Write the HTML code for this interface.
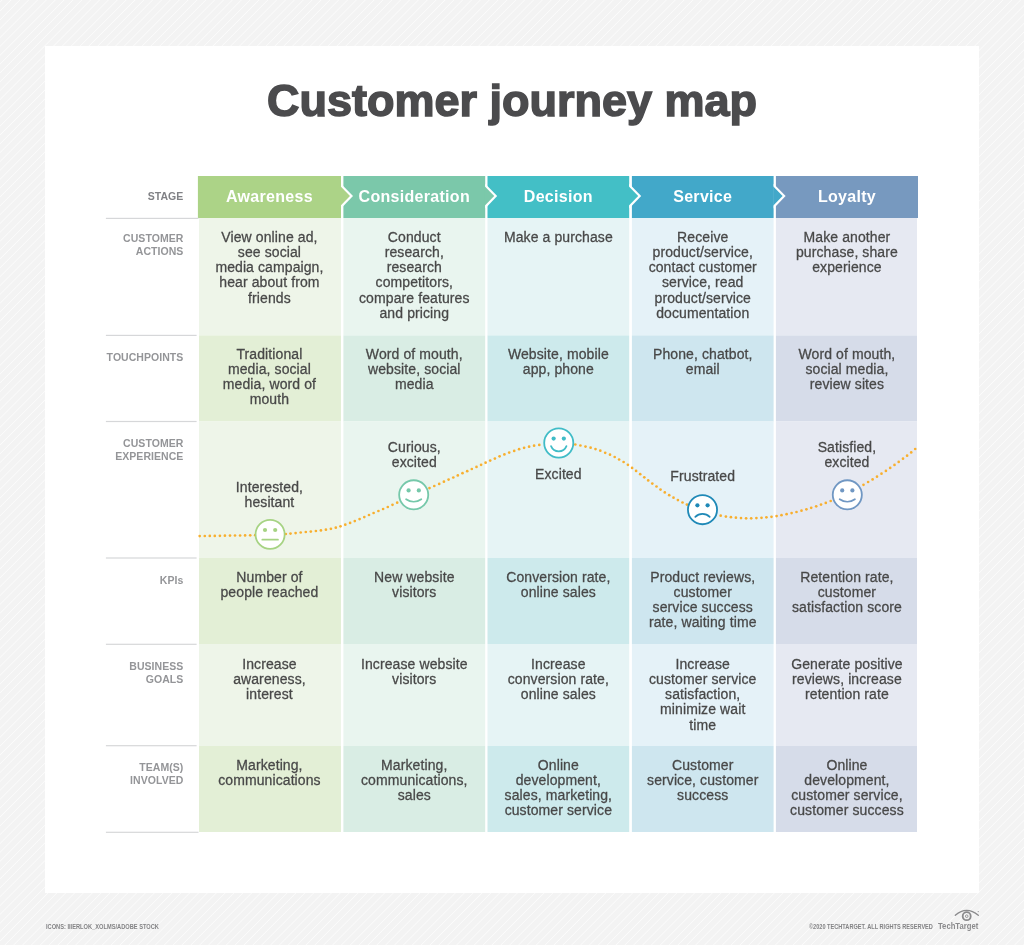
<!DOCTYPE html>
<html><head><meta charset="utf-8">
<style>
*{margin:0;padding:0;box-sizing:border-box}
html,body{width:1024px;height:945px;overflow:hidden}
body{position:relative;-webkit-font-smoothing:antialiased;font-family:"Liberation Sans",sans-serif;
background:#f3f3f3 repeating-linear-gradient(135deg,#f3f3f3 0px,#f3f3f3 0.75px,#fbfbfb 1.5px,#f3f3f3 2.25px,#f3f3f3 6.263px);}
#card{position:absolute;left:45.4px;top:45.7px;width:933.4px;height:847.4px;background:#fff}
svg.g{position:absolute;left:0;top:0}
#txt{position:absolute;left:0;top:0;width:1024px;height:945px;will-change:transform}
.t{position:absolute;text-align:center;font-size:14px;line-height:15.3px;color:#484848;-webkit-text-stroke:0.28px #484848;white-space:nowrap;letter-spacing:0.1px}
.h{position:absolute;text-align:center;font-size:16px;font-weight:bold;color:#fff;white-space:nowrap;letter-spacing:0.3px}
.l{position:absolute;text-align:right;font-size:10.5px;line-height:12.8px;letter-spacing:0.05px;color:#949598;white-space:nowrap;font-weight:bold}
#title{position:absolute;left:0;width:1024px;text-align:center;font-size:45px;font-weight:bold;color:#4b4b4d;-webkit-text-stroke:1.5px #4b4b4d;white-space:nowrap}
.foot{position:absolute;color:#838385;white-space:nowrap;font-weight:bold}
</style></head><body>
<div id="card"></div>

<svg class="g" width="1024" height="945" viewBox="0 0 1024 945">
<rect x="197.9" y="176.0" width="143.10" height="42.00" fill="#acd387"/>
<rect x="343.4" y="176.0" width="141.80" height="42.00" fill="#7bc8aa"/>
<rect x="487.5" y="176.0" width="141.70" height="42.00" fill="#43bfc6"/>
<rect x="631.9" y="176.0" width="141.70" height="42.00" fill="#42a8c9"/>
<rect x="775.9" y="176.0" width="142.10" height="42.00" fill="#7799bf"/>
<rect x="199.0" y="218.0" width="142.00" height="117.40" fill="#eef5e9"/>
<rect x="343.4" y="218.0" width="141.80" height="117.40" fill="#e9f5ef"/>
<rect x="487.5" y="218.0" width="141.70" height="117.40" fill="#e6f4f5"/>
<rect x="631.9" y="218.0" width="141.70" height="117.40" fill="#e5f2f8"/>
<rect x="775.9" y="218.0" width="141.10" height="117.40" fill="#e6e9f2"/>
<rect x="199.0" y="335.4" width="142.00" height="86.10" fill="#e3efd6"/>
<rect x="343.4" y="335.4" width="141.80" height="86.10" fill="#d9ede4"/>
<rect x="487.5" y="335.4" width="141.70" height="86.10" fill="#cdeaec"/>
<rect x="631.9" y="335.4" width="141.70" height="86.10" fill="#cee6ef"/>
<rect x="775.9" y="335.4" width="141.10" height="86.10" fill="#d6dce9"/>
<rect x="199.0" y="421.5" width="142.00" height="136.50" fill="#eef5e9"/>
<rect x="343.4" y="421.5" width="141.80" height="136.50" fill="#e9f5ef"/>
<rect x="487.5" y="421.5" width="141.70" height="136.50" fill="#e6f4f5"/>
<rect x="631.9" y="421.5" width="141.70" height="136.50" fill="#e5f2f8"/>
<rect x="775.9" y="421.5" width="141.10" height="136.50" fill="#e6e9f2"/>
<rect x="199.0" y="558.0" width="142.00" height="86.00" fill="#e3efd6"/>
<rect x="343.4" y="558.0" width="141.80" height="86.00" fill="#d9ede4"/>
<rect x="487.5" y="558.0" width="141.70" height="86.00" fill="#cdeaec"/>
<rect x="631.9" y="558.0" width="141.70" height="86.00" fill="#cee6ef"/>
<rect x="775.9" y="558.0" width="141.10" height="86.00" fill="#d6dce9"/>
<rect x="199.0" y="644.0" width="142.00" height="102.00" fill="#eef5e9"/>
<rect x="343.4" y="644.0" width="141.80" height="102.00" fill="#e9f5ef"/>
<rect x="487.5" y="644.0" width="141.70" height="102.00" fill="#e6f4f5"/>
<rect x="631.9" y="644.0" width="141.70" height="102.00" fill="#e5f2f8"/>
<rect x="775.9" y="644.0" width="141.10" height="102.00" fill="#e6e9f2"/>
<rect x="199.0" y="746.0" width="142.00" height="86.00" fill="#e3efd6"/>
<rect x="343.4" y="746.0" width="141.80" height="86.00" fill="#d9ede4"/>
<rect x="487.5" y="746.0" width="141.70" height="86.00" fill="#cdeaec"/>
<rect x="631.9" y="746.0" width="141.70" height="86.00" fill="#cee6ef"/>
<rect x="775.9" y="746.0" width="141.10" height="86.00" fill="#d6dce9"/>
<polygon points="341.0,183.70000000000002 353.0,196.05 341.0,208.4" fill="#fff"/>
<polygon points="340.5,186.3 350.0,196.05 340.5,205.8" fill="#acd387"/>
<polygon points="485.2,183.70000000000002 497.2,196.05 485.2,208.4" fill="#fff"/>
<polygon points="484.7,186.3 494.2,196.05 484.7,205.8" fill="#7bc8aa"/>
<polygon points="629.2,183.70000000000002 641.2,196.05 629.2,208.4" fill="#fff"/>
<polygon points="628.7,186.3 638.2,196.05 628.7,205.8" fill="#43bfc6"/>
<polygon points="773.6,183.70000000000002 785.6,196.05 773.6,208.4" fill="#fff"/>
<polygon points="773.1,186.3 782.6,196.05 773.1,205.8" fill="#42a8c9"/>
<rect x="105.9" y="217.80" width="92.60" height="1.2" fill="#d6d7d9"/>
<rect x="105.9" y="334.80" width="90.70" height="1.2" fill="#d6d7d9"/>
<rect x="105.9" y="420.90" width="90.70" height="1.2" fill="#d6d7d9"/>
<rect x="105.9" y="557.40" width="90.70" height="1.2" fill="#d6d7d9"/>
<rect x="105.9" y="643.70" width="90.70" height="1.2" fill="#d6d7d9"/>
<rect x="105.9" y="745.10" width="90.70" height="1.2" fill="#d6d7d9"/>
<rect x="105.9" y="831.70" width="92.60" height="1.2" fill="#d6d7d9"/>
<g fill="#f8af2f"><circle cx="199.7" cy="536.1" r="1.35"/><circle cx="204.8" cy="536.0" r="1.35"/><circle cx="209.8" cy="535.9" r="1.35"/><circle cx="214.8" cy="535.9" r="1.35"/><circle cx="219.9" cy="535.8" r="1.35"/><circle cx="224.9" cy="535.7" r="1.35"/><circle cx="230.0" cy="535.6" r="1.35"/><circle cx="235.0" cy="535.5" r="1.35"/><circle cx="240.1" cy="535.5" r="1.35"/><circle cx="245.1" cy="535.4" r="1.35"/><circle cx="250.2" cy="535.3" r="1.35"/><circle cx="255.2" cy="535.2" r="1.35"/><circle cx="285.8" cy="534.0" r="1.35"/><circle cx="290.5" cy="533.6" r="1.35"/><circle cx="295.6" cy="533.1" r="1.35"/><circle cx="300.7" cy="532.5" r="1.35"/><circle cx="305.8" cy="532.0" r="1.35"/><circle cx="310.8" cy="531.6" r="1.35"/><circle cx="315.9" cy="531.0" r="1.35"/><circle cx="320.9" cy="530.4" r="1.35"/><circle cx="325.9" cy="529.7" r="1.35"/><circle cx="330.9" cy="528.8" r="1.35"/><circle cx="335.8" cy="527.7" r="1.35"/><circle cx="340.5" cy="526.3" r="1.35"/><circle cx="345.3" cy="524.7" r="1.35"/><circle cx="350.1" cy="522.9" r="1.35"/><circle cx="354.8" cy="521.1" r="1.35"/><circle cx="359.6" cy="519.1" r="1.35"/><circle cx="364.3" cy="517.1" r="1.35"/><circle cx="369.0" cy="515.0" r="1.35"/><circle cx="373.6" cy="513.0" r="1.35"/><circle cx="378.4" cy="511.0" r="1.35"/><circle cx="383.1" cy="509.0" r="1.35"/><circle cx="387.8" cy="507.0" r="1.35"/><circle cx="392.5" cy="504.8" r="1.35"/><circle cx="397.2" cy="502.7" r="1.35"/><circle cx="429.5" cy="488.1" r="1.35"/><circle cx="434.3" cy="486.0" r="1.35"/><circle cx="439.2" cy="483.9" r="1.35"/><circle cx="443.9" cy="481.7" r="1.35"/><circle cx="448.6" cy="479.6" r="1.35"/><circle cx="453.3" cy="477.5" r="1.35"/><circle cx="457.8" cy="475.4" r="1.35"/><circle cx="462.5" cy="473.2" r="1.35"/><circle cx="467.2" cy="471.2" r="1.35"/><circle cx="471.8" cy="469.0" r="1.35"/><circle cx="476.5" cy="466.9" r="1.35"/><circle cx="481.1" cy="464.8" r="1.35"/><circle cx="485.6" cy="462.7" r="1.35"/><circle cx="490.2" cy="460.6" r="1.35"/><circle cx="494.9" cy="458.6" r="1.35"/><circle cx="499.6" cy="456.3" r="1.35"/><circle cx="504.4" cy="454.4" r="1.35"/><circle cx="509.2" cy="452.6" r="1.35"/><circle cx="514.2" cy="450.9" r="1.35"/><circle cx="519.1" cy="449.2" r="1.35"/><circle cx="524.1" cy="447.8" r="1.35"/><circle cx="529.1" cy="446.7" r="1.35"/><circle cx="534.1" cy="445.7" r="1.35"/><circle cx="539.3" cy="444.9" r="1.35"/><circle cx="575.3" cy="444.5" r="1.35"/><circle cx="580.4" cy="445.5" r="1.35"/><circle cx="585.5" cy="446.6" r="1.35"/><circle cx="590.6" cy="447.7" r="1.35"/><circle cx="595.5" cy="449.1" r="1.35"/><circle cx="600.3" cy="450.7" r="1.35"/><circle cx="605.2" cy="452.8" r="1.35"/><circle cx="610.0" cy="454.7" r="1.35"/><circle cx="614.7" cy="457.0" r="1.35"/><circle cx="619.1" cy="459.5" r="1.35"/><circle cx="623.6" cy="462.0" r="1.35"/><circle cx="627.9" cy="464.8" r="1.35"/><circle cx="632.1" cy="467.9" r="1.35"/><circle cx="636.1" cy="470.9" r="1.35"/><circle cx="640.2" cy="474.2" r="1.35"/><circle cx="644.3" cy="477.3" r="1.35"/><circle cx="648.2" cy="480.4" r="1.35"/><circle cx="652.3" cy="483.6" r="1.35"/><circle cx="656.5" cy="486.5" r="1.35"/><circle cx="660.5" cy="489.6" r="1.35"/><circle cx="664.8" cy="492.4" r="1.35"/><circle cx="669.2" cy="495.2" r="1.35"/><circle cx="673.5" cy="497.7" r="1.35"/><circle cx="677.9" cy="500.1" r="1.35"/><circle cx="682.5" cy="502.5" r="1.35"/><circle cx="686.9" cy="504.6" r="1.35"/><circle cx="720.7" cy="515.7" r="1.35"/><circle cx="725.9" cy="516.6" r="1.35"/><circle cx="730.9" cy="517.2" r="1.35"/><circle cx="735.9" cy="517.7" r="1.35"/><circle cx="741.0" cy="518.1" r="1.35"/><circle cx="746.1" cy="518.3" r="1.35"/><circle cx="751.2" cy="518.3" r="1.35"/><circle cx="756.4" cy="518.1" r="1.35"/><circle cx="761.5" cy="517.8" r="1.35"/><circle cx="766.4" cy="517.3" r="1.35"/><circle cx="771.5" cy="516.8" r="1.35"/><circle cx="776.6" cy="516.1" r="1.35"/><circle cx="781.5" cy="515.2" r="1.35"/><circle cx="786.6" cy="514.2" r="1.35"/><circle cx="791.6" cy="513.1" r="1.35"/><circle cx="796.5" cy="512.0" r="1.35"/><circle cx="801.5" cy="510.7" r="1.35"/><circle cx="806.4" cy="509.3" r="1.35"/><circle cx="811.2" cy="507.8" r="1.35"/><circle cx="816.2" cy="506.3" r="1.35"/><circle cx="821.0" cy="504.6" r="1.35"/><circle cx="825.8" cy="502.9" r="1.35"/><circle cx="830.7" cy="501.0" r="1.35"/><circle cx="863.5" cy="484.8" r="1.35"/><circle cx="868.1" cy="482.0" r="1.35"/><circle cx="872.6" cy="479.4" r="1.35"/><circle cx="877.0" cy="476.7" r="1.35"/><circle cx="881.5" cy="473.7" r="1.35"/><circle cx="885.9" cy="470.9" r="1.35"/><circle cx="890.2" cy="467.9" r="1.35"/><circle cx="894.5" cy="464.9" r="1.35"/><circle cx="898.7" cy="461.9" r="1.35"/><circle cx="903.0" cy="458.7" r="1.35"/><circle cx="907.1" cy="455.7" r="1.35"/><circle cx="911.2" cy="452.4" r="1.35"/><circle cx="915.2" cy="449.0" r="1.35"/></g>
<circle cx="270.1" cy="534.4" r="14.55" fill="#fff" stroke="#a6d383" stroke-width="1.8"/>
<circle cx="265.0" cy="530.0" r="2.1" fill="#a6d383"/>
<circle cx="275.20000000000005" cy="530.0" r="2.1" fill="#a6d383"/>
<line x1="262.3" y1="539.6999999999999" x2="278.0" y2="539.6999999999999" stroke="#a6d383" stroke-width="1.7" stroke-linecap="round"/>
<circle cx="413.7" cy="494.8" r="14.55" fill="#fff" stroke="#76c8aa" stroke-width="1.8"/>
<circle cx="408.59999999999997" cy="490.40000000000003" r="2.1" fill="#76c8aa"/>
<circle cx="418.8" cy="490.40000000000003" r="2.1" fill="#76c8aa"/>
<path d="M406.10,499.20 A13.23,13.23 0 0 0 421.30,499.20" fill="none" stroke="#76c8aa" stroke-width="1.75" stroke-linecap="round"/>
<circle cx="558.75" cy="443.0" r="14.55" fill="#fff" stroke="#40bcc7" stroke-width="1.8"/>
<circle cx="553.65" cy="438.6" r="2.1" fill="#40bcc7"/>
<circle cx="563.85" cy="438.6" r="2.1" fill="#40bcc7"/>
<path d="M551.05,446.10 A8.30,8.30 0 0 0 566.45,446.10" fill="none" stroke="#40bcc7" stroke-width="1.75" stroke-linecap="round"/>
<circle cx="702.5" cy="509.7" r="14.55" fill="#fff" stroke="#1f89b7" stroke-width="1.8"/>
<circle cx="697.4" cy="505.3" r="2.1" fill="#1f89b7"/>
<circle cx="707.6" cy="505.3" r="2.1" fill="#1f89b7"/>
<path d="M695.30,516.90 A10.14,10.14 0 0 1 709.70,516.90" fill="none" stroke="#1f89b7" stroke-width="1.75" stroke-linecap="round"/>
<circle cx="847.3" cy="494.8" r="14.55" fill="#fff" stroke="#7097c3" stroke-width="1.8"/>
<circle cx="842.1999999999999" cy="490.40000000000003" r="2.1" fill="#7097c3"/>
<circle cx="852.4" cy="490.40000000000003" r="2.1" fill="#7097c3"/>
<path d="M839.70,499.20 A13.23,13.23 0 0 0 854.90,499.20" fill="none" stroke="#7097c3" stroke-width="1.75" stroke-linecap="round"/>
</svg>
<div id="txt">
<div id="title" style="top:76.3px;line-height:50px">Customer journey map</div>
<div class="h" style="left:197.9px;width:143.1px;top:176.0px;line-height:42.0px">Awareness</div>
<div class="h" style="left:343.4px;width:141.8px;top:176.0px;line-height:42.0px">Consideration</div>
<div class="h" style="left:487.5px;width:141.7px;top:176.0px;line-height:42.0px">Decision</div>
<div class="h" style="left:631.9px;width:141.7px;top:176.0px;line-height:42.0px">Service</div>
<div class="h" style="left:775.9px;width:142.1px;top:176.0px;line-height:42.0px">Loyalty</div>
<div class="l" style="left:60px;width:123.4px;top:190.2px;color:#808185">STAGE</div>
<div class="l" style="left:60px;width:123.4px;top:231.9px">CUSTOMER<br>ACTIONS</div>
<div class="t" style="left:197.9px;width:143.1px;top:229.5px">View online ad,<br>see social<br>media campaign,<br>hear about from<br>friends</div>
<div class="t" style="left:343.4px;width:141.8px;top:229.5px">Conduct<br>research,<br>research<br>competitors,<br>compare features<br>and pricing</div>
<div class="t" style="left:487.5px;width:141.7px;top:229.5px">Make a purchase</div>
<div class="t" style="left:631.9px;width:141.7px;top:229.5px">Receive<br>product/service,<br>contact customer<br>service, read<br>product/service<br>documentation</div>
<div class="t" style="left:775.9px;width:142.1px;top:229.5px">Make another<br>purchase, share<br>experience</div>
<div class="l" style="left:60px;width:123.4px;top:351.2px">TOUCHPOINTS</div>
<div class="t" style="left:197.9px;width:143.1px;top:346.5px">Traditional<br>media, social<br>media, word of<br>mouth</div>
<div class="t" style="left:343.4px;width:141.8px;top:346.5px">Word of mouth,<br>website, social<br>media</div>
<div class="t" style="left:487.5px;width:141.7px;top:346.5px">Website, mobile<br>app, phone</div>
<div class="t" style="left:631.9px;width:141.7px;top:346.5px">Phone, chatbot,<br>email</div>
<div class="t" style="left:775.9px;width:142.1px;top:346.5px">Word of mouth,<br>social media,<br>review sites</div>
<div class="l" style="left:60px;width:123.4px;top:437.2px">CUSTOMER<br>EXPERIENCE</div>
<div class="t" style="left:197.9px;width:143.1px;top:479.8px">Interested,<br>hesitant</div>
<div class="t" style="left:343.4px;width:141.8px;top:439.7px">Curious,<br>excited</div>
<div class="t" style="left:487.5px;width:141.7px;top:467.0px">Excited</div>
<div class="t" style="left:631.9px;width:141.7px;top:469.3px">Frustrated</div>
<div class="t" style="left:775.9px;width:142.1px;top:439.8px">Satisfied,<br>excited</div>
<div class="l" style="left:60px;width:123.4px;top:573.8px">KPIs</div>
<div class="t" style="left:197.9px;width:143.1px;top:569.5px">Number of<br>people reached</div>
<div class="t" style="left:343.4px;width:141.8px;top:569.5px">New website<br>visitors</div>
<div class="t" style="left:487.5px;width:141.7px;top:569.5px">Conversion rate,<br>online sales</div>
<div class="t" style="left:631.9px;width:141.7px;top:569.5px">Product reviews,<br>customer<br>service success<br>rate, waiting time</div>
<div class="t" style="left:775.9px;width:142.1px;top:569.5px">Retention rate,<br>customer<br>satisfaction score</div>
<div class="l" style="left:60px;width:123.4px;top:660.0px">BUSINESS<br>GOALS</div>
<div class="t" style="left:197.9px;width:143.1px;top:656.5px">Increase<br>awareness,<br>interest</div>
<div class="t" style="left:343.4px;width:141.8px;top:656.5px">Increase website<br>visitors</div>
<div class="t" style="left:487.5px;width:141.7px;top:656.5px">Increase<br>conversion rate,<br>online sales</div>
<div class="t" style="left:631.9px;width:141.7px;top:656.5px">Increase<br>customer service<br>satisfaction,<br>minimize wait<br>time</div>
<div class="t" style="left:775.9px;width:142.1px;top:656.5px">Generate positive<br>reviews, increase<br>retention rate</div>
<div class="l" style="left:60px;width:123.4px;top:761.4px">TEAM(S)<br>INVOLVED</div>
<div class="t" style="left:197.9px;width:143.1px;top:757.5px">Marketing,<br>communications</div>
<div class="t" style="left:343.4px;width:141.8px;top:757.5px">Marketing,<br>communications,<br>sales</div>
<div class="t" style="left:487.5px;width:141.7px;top:757.5px">Online<br>development,<br>sales, marketing,<br>customer service</div>
<div class="t" style="left:631.9px;width:141.7px;top:757.5px">Customer<br>service, customer<br>success</div>
<div class="t" style="left:775.9px;width:142.1px;top:757.5px">Online<br>development,<br>customer service,<br>customer success</div>
<div class="foot" style="left:45.5px;top:922.54px;font-size:6.8px;line-height:8px;transform:scaleX(0.836);transform-origin:0 0">ICONS: IIIERLOK_XOLMS/ADOBE STOCK</div>
<div class="foot" style="left:808.6px;top:922.54px;font-size:6.8px;line-height:8px;transform:scaleX(0.823);transform-origin:0 0">&copy;2020 TECHTARGET. ALL RIGHTS RESERVED</div>
<div style="position:absolute;left:938.4px;top:919.57px;font-size:9.6px;line-height:12px;font-weight:bold;color:#8a8a8c;white-space:nowrap;transform:scaleX(0.8);transform-origin:0 0">TechTarget</div>
<svg style="position:absolute;left:0;top:0" width="1024" height="945" viewBox="0 0 1024 945"><path d="M955.3,915.3 Q966.5,905.6 978.3,915.3" fill="none" stroke="#8a8a8c" stroke-width="1.3" stroke-linecap="round"/><circle cx="966.7" cy="916.2" r="4.0" fill="none" stroke="#8a8a8c" stroke-width="1.8"/><circle cx="966.7" cy="916.2" r="1.3" fill="none" stroke="#8a8a8c" stroke-width="0.9"/><circle cx="978.2" cy="911.6" r="0.6" fill="#8a8a8c"/></svg>
</div>
</body></html>
